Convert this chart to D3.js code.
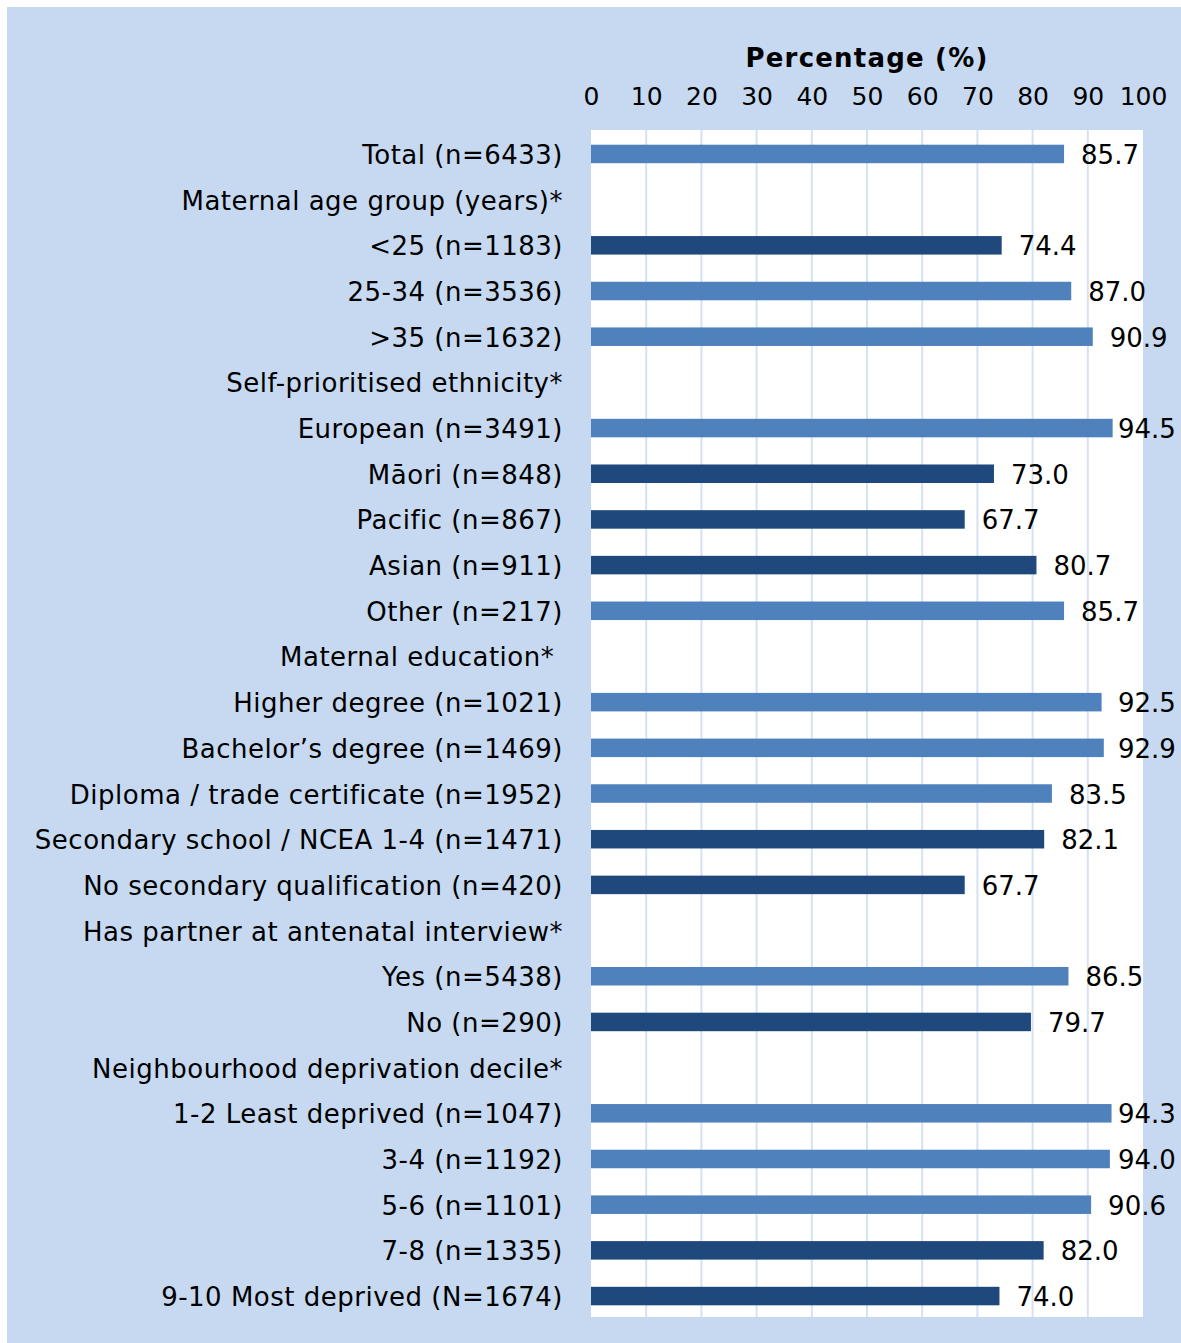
<!DOCTYPE html>
<html><head><meta charset="utf-8">
<script src="https://cdn.jsdelivr.net/npm/d3@7"></script>
<style>
html,body{margin:0;padding:0;background:#fff;}
text{font-family:"DejaVu Sans",Verdana,sans-serif;}
</style></head>
<body><svg id="c" width="1181" height="1343"></svg>
<script>
const categories = [
  "Total (n=6433)",
  "Maternal age group (years)*",
  "<25 (n=1183)",
  "25-34 (n=3536)",
  ">35 (n=1632)",
  "Self-prioritised ethnicity*",
  "European (n=3491)",
  "Māori (n=848)",
  "Pacific (n=867)",
  "Asian (n=911)",
  "Other (n=217)",
  "Maternal education*\u00a0",
  "Higher degree (n=1021)",
  "Bachelor’s degree (n=1469)",
  "Diploma / trade certificate (n=1952)",
  "Secondary school / NCEA 1-4 (n=1471)",
  "No secondary qualification (n=420)",
  "Has partner at antenatal interview*",
  "Yes (n=5438)",
  "No (n=290)",
  "Neighbourhood deprivation decile*",
  "1-2 Least deprived (n=1047)",
  "3-4 (n=1192)",
  "5-6 (n=1101)",
  "7-8 (n=1335)",
  "9-10 Most deprived (N=1674)"
];
const values = [85.7, null, 74.4, 87.0, 90.9, null, 94.5, 73.0, 67.7, 80.7, 85.7, null,
  92.5, 92.9, 83.5, 82.1, 67.7, null, 86.5, 79.7, null, 94.3, 94.0, 90.6, 82.0, 74.0];
const lowerGroup = [false, false, true, false, false, false, false, true, true, true, false, false,
  false, false, false, true, true, false, false, true, false, false, false, false, true, true];
const tickValues = [0,10,20,30,40,50,60,70,80,90,100];
const axisTitle = "Percentage (%)";

const svg = d3.select("#c");
const W = 1181, H = 1343;
svg.append("rect").attr("x",7).attr("y",7).attr("width",W-7).attr("height",H-7).attr("fill","#c6d9f0");

const plot = {left:591, right:1143, top:130, bottom:1317};
const x = d3.scaleLinear().domain([0,100]).range([plot.left, plot.right]);
const y = d3.scaleBand().domain(d3.range(categories.length)).range([131, 1319]).paddingInner(0.595).paddingOuter(0.3);

svg.append("rect").attr("x",plot.left).attr("y",plot.top).attr("width",plot.right-plot.left).attr("height",plot.bottom-plot.top).attr("fill","#fff");

svg.append("g").selectAll("line").data(tickValues.filter(d=>d>0 && d<100)).join("line")
  .attr("x1",d=>x(d)).attr("x2",d=>x(d)).attr("y1",plot.top).attr("y2",plot.bottom)
  .attr("stroke","#d6e2f1").attr("stroke-width",2);

const axis = d3.axisTop(x).tickValues(tickValues).tickSize(0).tickPadding(0).tickFormat(d3.format("d"));
const ag = svg.append("g").attr("transform","translate(0,105)").call(axis);
ag.select(".domain").remove();
ag.selectAll("text").attr("font-size",25).attr("fill","#000").attr("font-family","DejaVu Sans");

svg.append("text").attr("x",x(50)).attr("y",67).attr("text-anchor","middle")
  .attr("font-size",26).attr("font-weight","bold").attr("letter-spacing",1.2).attr("fill","#000").text(axisTitle);

const rows = categories.map((c,i)=>({c, v:values[i], low:lowerGroup[i], i}));

svg.append("g").selectAll("text").data(rows).join("text")
  .attr("x",563).attr("y",d=>y(d.i)+y.bandwidth()/2+1).attr("text-anchor","end").attr("dominant-baseline","central")
  .attr("font-size",26).attr("letter-spacing",0.5).attr("fill","#000").style("white-space","pre").text(d=>d.c);

const bars = rows.filter(d=>d.v!=null);
svg.append("g").selectAll("rect").data(bars).join("rect")
  .attr("x",x(0)).attr("y",d=>y(d.i)).attr("width",d=>x(d.v)-x(0)).attr("height",y.bandwidth())
  .attr("fill",d=>d.low?"#1f497d":"#4f81bd");

svg.append("g").selectAll("text").data(bars).join("text")
  .attr("x",d=>Math.min(x(d.v)+17, 1118)).attr("y",d=>y(d.i)+y.bandwidth()/2+1).attr("dominant-baseline","central")
  .attr("font-size",26).attr("fill","#000").text(d=>d.v.toFixed(1));
</script></body></html>
